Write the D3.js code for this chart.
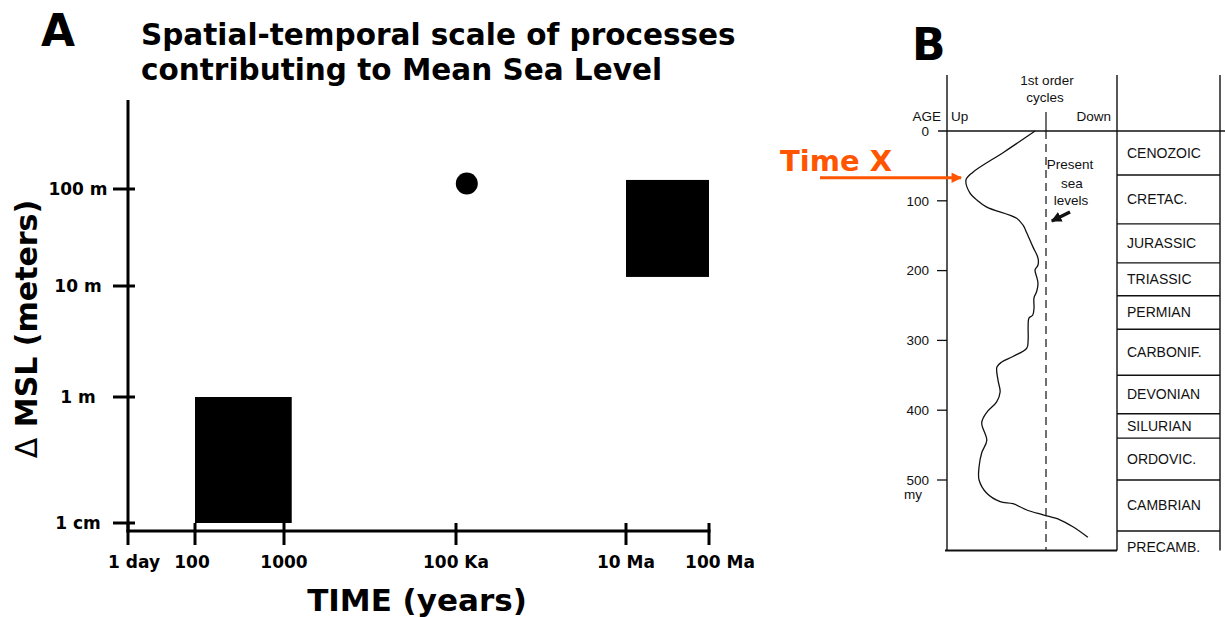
<!DOCTYPE html>
<html><head><meta charset="utf-8">
<script src="https://cdn.jsdelivr.net/npm/d3@7"></script>
<style>body{margin:0;background:#fff} svg{display:block}</style>
</head><body><svg id="c" width="1225" height="617"></svg>
<script>
// ---------- Panel A data ----------
const timeTicks = [1/365, 100, 1000, 1e5, 1e7, 1e8];
const timeTickLabels = ["1 day", "100", "1000", "100 Ka", "10 Ma", "100 Ma"];
const mslTicks = [0.01, 1, 10, 100];
const mslTickLabels = ["1 cm", "1 m", "10 m", "100 m"];
const boxTimeFrom = [100, 1e7];
const boxTimeTo = [1230, 1e8];
const boxMslFrom = [0.01, 12.4];
const boxMslTo = [1.0, 124];
const dotTime = [1.34e5];
const dotMsl = [114];

// ---------- Panel B data ----------
const eraNames = ["CENOZOIC", "CRETAC.", "JURASSIC", "TRIASSIC", "PERMIAN", "CARBONIF.", "DEVONIAN", "SILURIAN", "ORDOVIC.", "CAMBRIAN", "PRECAMB."];
const eraBounds = [0, 63, 133, 189, 236, 284, 350, 405, 440, 500, 573, 601];
const ageTicks = [0, 100, 200, 300, 400, 500];
const ageTickLabels = ["0", "100", "200", "300", "400", "500"];
const curveAge = [0, 30, 59, 70, 89, 99, 109, 125, 135, 146, 166, 182, 192, 199, 209, 218, 230, 239, 254, 264, 268, 280, 299, 311, 323, 331, 338, 357, 374, 388, 403, 418, 443, 461, 481, 500, 519, 531, 534, 543, 550, 557, 567, 582];
const curveLevel = [41, 157, 274, 300, 285, 259, 222, 110, 86, 72, 49, 30, 30, 41, 35, 30, 35, 45, 45, 50, 64, 67, 67, 72, 124, 166, 184, 180, 172, 185, 222, 241, 222, 241, 251, 251, 222, 172, 124, 72, 11, -52, -101, -157];

(function () {
const svg = d3.select("#c");
const bold = "DejaVu Sans, Verdana, sans-serif";
const helv = "Liberation Sans, Arial, sans-serif";

// ================= Panel A =================
const x = d3.scaleLog().domain(timeTicks).range([128, 195, 284, 456, 626, 709]);
const y = d3.scaleLog().domain(mslTicks).range([523, 397, 286, 189]);
const axisY = 531, axisX = 128;

const gA = svg.append("g");
gA.append("text").attr("x", 41).attr("y", 46).attr("font-family", bold).attr("font-weight", "bold")
  .attr("font-size", 44).text("A");
gA.append("text").attr("x", 141).attr("y", 45).attr("font-family", bold).attr("font-weight", "bold")
  .attr("font-size", 29.5).text("Spatial-temporal scale of processes");
gA.append("text").attr("x", 141).attr("y", 80).attr("font-family", bold).attr("font-weight", "bold")
  .attr("font-size", 29.5).text("contributing to Mean Sea Level");

// boxes
gA.selectAll("rect.box").data(boxTimeFrom).join("rect").attr("class", "box")
  .attr("x", (d, i) => x(boxTimeFrom[i]))
  .attr("y", (d, i) => y(boxMslTo[i]))
  .attr("width", (d, i) => x(boxTimeTo[i]) - x(boxTimeFrom[i]))
  .attr("height", (d, i) => y(boxMslFrom[i]) - y(boxMslTo[i]))
  .attr("fill", "#000");
gA.selectAll("circle.dot").data(dotTime).join("circle").attr("class", "dot")
  .attr("cx", (d, i) => x(dotTime[i])).attr("cy", (d, i) => y(dotMsl[i])).attr("r", 11).attr("fill", "#000");

// axes
gA.append("line").attr("x1", axisX).attr("x2", axisX).attr("y1", 100).attr("y2", axisY + 1.5)
  .attr("stroke", "#000").attr("stroke-width", 3);
gA.append("line").attr("x1", axisX - 1.5).attr("x2", x(1e8) + 1.5).attr("y1", axisY).attr("y2", axisY)
  .attr("stroke", "#000").attr("stroke-width", 3);
gA.selectAll("line.yt").data(mslTicks).join("line").attr("class", "yt")
  .attr("x1", axisX - 15).attr("x2", axisX + 7).attr("y1", d => y(d)).attr("y2", d => y(d))
  .attr("stroke", "#000").attr("stroke-width", 3);
gA.selectAll("text.yl").data(mslTicks).join("text").attr("class", "yl")
  .attr("x", 78).attr("y", d => y(d) + 6).attr("text-anchor", "middle")
  .attr("font-family", bold).attr("font-weight", "bold").attr("font-size", 17)
  .text((d, i) => mslTickLabels[i]);
gA.selectAll("line.xt").data(timeTicks).join("line").attr("class", "xt")
  .attr("x1", d => x(d)).attr("x2", d => x(d)).attr("y1", axisY - 8).attr("y2", axisY + 14)
  .attr("stroke", "#000").attr("stroke-width", 3);
gA.selectAll("text.xl").data(timeTicks).join("text").attr("class", "xl")
  .attr("x", (d, i) => x(d) + (i === 0 ? 6 : i === 5 ? 11 : i === 1 ? -3 : 0)).attr("y", 568).attr("text-anchor", "middle")
  .attr("font-family", bold).attr("font-weight", "bold").attr("font-size", 17)
  .text((d, i) => timeTickLabels[i]);
gA.append("text").attr("x", 417).attr("y", 611).attr("text-anchor", "middle")
  .attr("font-family", bold).attr("font-weight", "bold").attr("font-size", 31).text("TIME (years)");
const yt = gA.append("text").attr("transform", "translate(37,329) rotate(-90)").attr("text-anchor", "middle")
  .attr("font-family", bold).attr("font-weight", "bold").attr("font-size", 30);
yt.append("tspan").attr("font-weight", "normal").text("\u0394");
yt.append("tspan").text(" MSL (meters)");

// ================= Panel B =================
const age = d3.scaleLinear().domain([0, 500]).range([131, 480]);
const lvl = d3.scaleLinear().domain([0, 300]).range([1046, 966]);
const bLeft = 947, bDiv = 1117, bRight = 1220, bTop = 75, bBottom = age(601);
const gB = svg.append("g");
const ln = (x1, y1, x2, y2, w = 1.4) => gB.append("line").attr("x1", x1).attr("y1", y1).attr("x2", x2).attr("y2", y2)
  .attr("stroke", "#111").attr("stroke-width", w);

gB.append("text").attr("x", 912).attr("y", 60).attr("font-family", bold).attr("font-weight", "bold")
  .attr("font-size", 44).text("B");

ln(bLeft, bTop, bLeft, bBottom);
ln(bDiv, bTop, bDiv, bBottom);
ln(bRight, bTop, bRight, bBottom);
ln(bLeft - 2, bBottom, bDiv, bBottom, 1.8);
ln(938, age(0), 1225, age(0), 1.4);
ln(lvl(0), 112, lvl(0), age(0), 1.2);
ln(lvl(0), age(0), lvl(0), bBottom, 1.2).attr("stroke-dasharray", "8,5");
eraBounds.slice(1, eraBounds.length - 1).forEach(b => ln(bDiv, age(b), bRight, age(b), 1.4));
ageTicks.slice(1).forEach(t => ln(937, age(t), bLeft, age(t), 1.3));

const t13 = (xx, yy, s, anchor = "start") => gB.append("text").attr("x", xx).attr("y", yy)
  .attr("text-anchor", anchor).attr("font-family", helv).attr("font-size", 13.5).attr("fill", "#111").text(s);

gB.selectAll("text.al").data(ageTicks).join("text").attr("class", "al")
  .attr("x", 929).attr("y", d => age(d)).attr("dy", "0.35em").attr("text-anchor", "end")
  .attr("font-family", helv).attr("font-size", 13.5).attr("fill", "#111").text((d, i) => ageTickLabels[i]);
t13(913, 499, "my", "middle");
t13(941, 121, "AGE", "end");
t13(951, 121, "Up");
t13(1111, 121, "Down", "end");
t13(1047, 85, "1st order", "middle");
t13(1045, 102, "cycles", "middle");
t13(1070, 169, "Present", "middle");
t13(1072, 188, "sea", "middle");
t13(1071, 205, "levels", "middle");

gB.selectAll("text.era").data(eraNames).join("text").attr("class", "era")
  .attr("x", 1127)
  .attr("y", (d, i) => i === eraNames.length - 1 ? age(eraBounds[i]) + 16 : (age(eraBounds[i]) + age(eraBounds[i + 1])) / 2)
  .attr("dy", "0.35em").attr("font-family", helv).attr("font-size", 14).attr("fill", "#111").text(d => d);

// sea level curve
const pts = curveAge.map((a, i) => [lvl(curveLevel[i]), age(a)]);
gB.append("path").attr("d", d3.line().curve(d3.curveCatmullRom)(pts))
  .attr("fill", "none").attr("stroke", "#111").attr("stroke-width", 1.3);

// small arrow toward present sea level
const defs = svg.append("defs");
defs.append("marker").attr("id", "ah").attr("viewBox", "0 0 10 10").attr("refX", 9).attr("refY", 5)
  .attr("markerWidth", 3).attr("markerHeight", 3).attr("orient", "auto")
  .append("path").attr("d", "M0,0L10,5L0,10z").attr("fill", "#111");
gB.append("line").attr("x1", lvl(-90)).attr("y1", age(116)).attr("x2", lvl(-22)).attr("y2", age(129))
  .attr("stroke", "#111").attr("stroke-width", 3.5).attr("marker-end", "url(#ah)");

// Time X annotation
const orange = "#FF5500";
defs.append("marker").attr("id", "oh").attr("viewBox", "0 0 10 10").attr("refX", 9).attr("refY", 5)
  .attr("markerWidth", 4).attr("markerHeight", 3.5).attr("orient", "auto")
  .append("path").attr("d", "M0,0L10,5L0,10z").attr("fill", orange);
const peakAge = 67;
gB.append("line").attr("x1", 820).attr("y1", age(peakAge)).attr("x2", lvl(300) - 5).attr("y2", age(peakAge))
  .attr("stroke", orange).attr("stroke-width", 3).attr("marker-end", "url(#oh)");
gB.append("text").attr("x", 780).attr("y", 171).attr("font-family", bold).attr("font-weight", "bold")
  .attr("font-size", 29).attr("fill", orange).text("Time X");
})();
</script></body></html>
